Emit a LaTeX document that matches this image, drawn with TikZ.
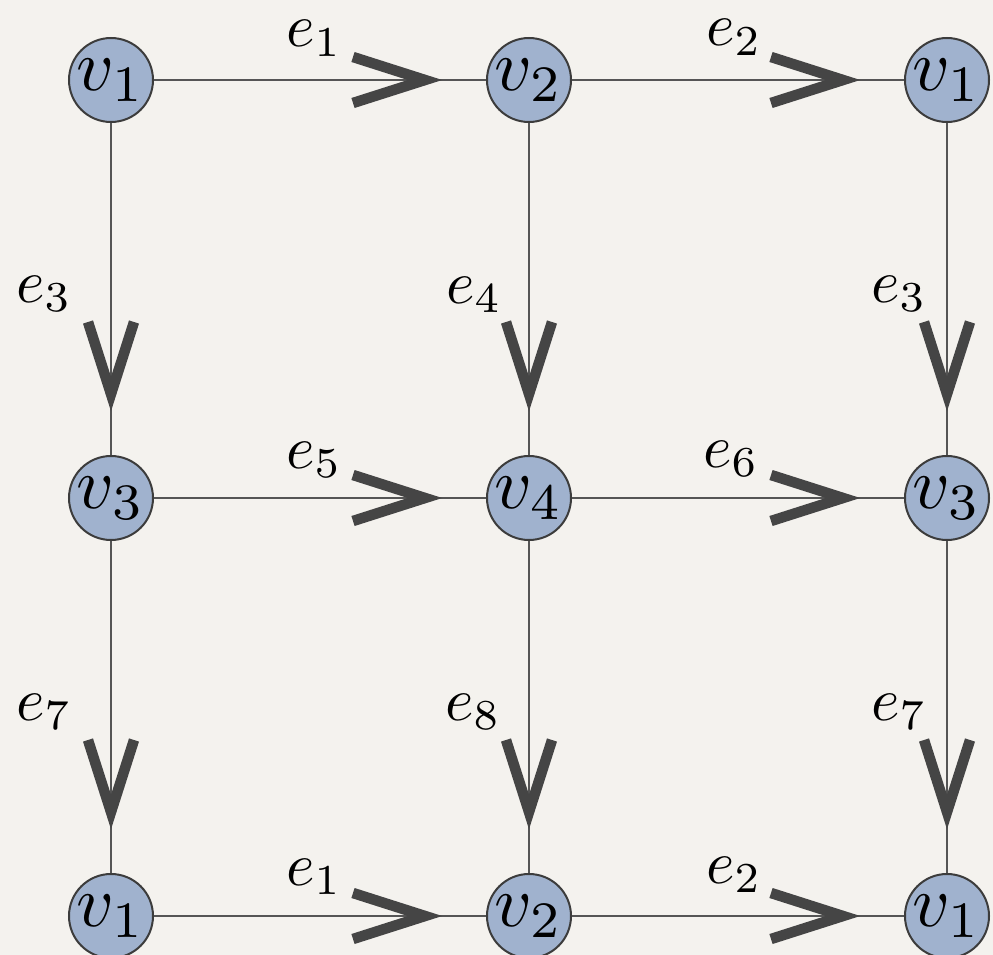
\documentclass[tikz,border=0pt]{standalone}
\usetikzlibrary{decorations.markings}
\definecolor{bg}{HTML}{F4F2EE}
\definecolor{nodefill}{HTML}{A0B2CE}
\definecolor{edgecol}{HTML}{555555}
\definecolor{headcol}{HTML}{454545}
\definecolor{rimcol}{HTML}{3C3C3C}
\newcommand{\vlab}[1]{\scalebox{7.3}{$#1$}}
\newcommand{\elab}[1]{\scalebox{6.1}{$#1$}}
\begin{document}
\begin{tikzpicture}[x=1pt,y=-1pt,
  vert/.style={circle,draw=rimcol,line width=2pt,fill=nodefill,minimum size=84pt,inner sep=0pt},
  edge/.style={draw=edgecol,line width=2.5pt,postaction={decorate},
    decoration={markings,mark=at position -61pt with {\draw[headcol,line width=10.5pt,line join=miter] (-72pt,23pt)--(0pt,0pt)--(-72pt,-23pt);}}},
  lab/.style={anchor=base west,inner sep=0pt}]
\useasboundingbox (0,0) rectangle (993,955);
\fill[bg] (0,0) rectangle (993,955);
\coordinate (p11) at (111,80);  \coordinate (p12) at (529,80);  \coordinate (p13) at (947,80);
\coordinate (p21) at (111,498); \coordinate (p22) at (529,498); \coordinate (p23) at (947,498);
\coordinate (p31) at (111,916); \coordinate (p32) at (529,916); \coordinate (p33) at (947,916);
\node[vert] (a1) at (p11) {\vlab{v_1}};
\node[vert] (a2) at (p12) {\vlab{v_2}};
\node[vert] (a3) at (p13) {\vlab{v_1}};
\node[vert] (b1) at (p21) {\vlab{v_3}};
\node[vert] (b2) at (p22) {\vlab{v_4}};
\node[vert] (b3) at (p23) {\vlab{v_3}};
\node[vert] (c1) at (p31) {\vlab{v_1}};
\node[vert] (c2) at (p32) {\vlab{v_2}};
\node[vert] (c3) at (p33) {\vlab{v_1}};
\draw[edge] (a1) -- (a2);
\draw[edge] (a2) -- (a3);
\draw[edge] (b1) -- (b2);
\draw[edge] (b2) -- (b3);
\draw[edge] (c1) -- (c2);
\draw[edge] (c2) -- (c3);
\draw[edge] (a1) -- (b1);
\draw[edge] (a2) -- (b2);
\draw[edge] (a3) -- (b3);
\draw[edge] (b1) -- (c1);
\draw[edge] (b2) -- (c2);
\draw[edge] (b3) -- (c3);
\node[lab] (l1) at (286,47) {\elab{e_1}};
\node[lab] (l2) at (706,46) {\elab{e_2}};
\node[lab] (l5) at (286,468) {\elab{e_5}};
\node[lab] (l6) at (703,467) {\elab{e_6}};
\node[lab] (l1b) at (286,885) {\elab{e_1}};
\node[lab] (l2b) at (706,883) {\elab{e_2}};
\node[lab] (l3) at (16,302) {\elab{e_3}};
\node[lab] (l4) at (446,303) {\elab{e_4}};
\node[lab] (l3r) at (871,302) {\elab{e_3}};
\node[lab] (l7) at (16,720) {\elab{e_7}};
\node[lab] (l8) at (445,720) {\elab{e_8}};
\node[lab] (l7r) at (871,720) {\elab{e_7}};
\end{tikzpicture}
\end{document}
